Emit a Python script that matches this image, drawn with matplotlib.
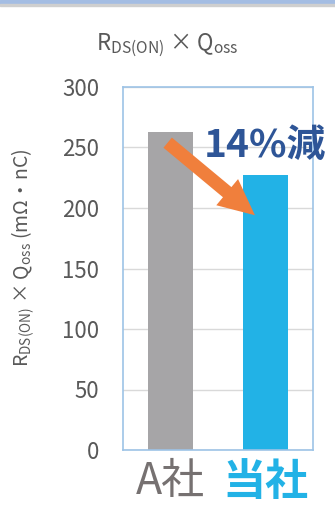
import matplotlib
matplotlib.use("Agg")
import matplotlib.pyplot as plt
from matplotlib.patches import Rectangle

plt.rcParams['font.family'] = ['Noto Sans CJK JP', 'DejaVu Sans']
plt.rcParams['mathtext.default'] = 'regular'

companies = ['A社', '当社']
values = [263, 227]
bar_colors = ['#a6a5a7', '#22b2e6']
label_colors = ['#767171', '#22b2e6']
yticks = [0, 50, 100, 150, 200, 250, 300]
reduction_text = '14%減'

fig = plt.figure(figsize=(3.35, 5.17), dpi=100)

# top band
fig.patches.append(Rectangle((0, 1 - 4 / 517), 1, 4 / 517, transform=fig.transFigure,
                             color='#a4bde3', zorder=0))
fig.patches.append(Rectangle((0, 1 - 6 / 517), 1, 2 / 517, transform=fig.transFigure,
                             color='#cfcfcf', zorder=0))

ax = fig.add_axes([123 / 335, 1 - 450 / 517, 190 / 335, 363 / 517])
x = range(len(companies))
ax.bar(x, values, width=0.48, color=bar_colors, zorder=2)

ax.set_xlim(-0.5, 1.5)
ax.set_ylim(0, 300)
ax.set_yticks(yticks)
ax.yaxis.grid(True, color='#d9d9d9', linewidth=1, zorder=0)
ax.tick_params(axis='y', length=0, pad=17, labelsize=16, labelcolor='#595959')
ax.tick_params(axis='x', length=0, pad=7)
ax.set_xticks(list(x))
ax.set_xticklabels(companies)
for lbl, c, w in zip(ax.get_xticklabels(), label_colors, ['normal', 'bold']):
    lbl.set_color(c)
    lbl.set_fontsize(31)
    lbl.set_fontweight(w)
for s in ax.spines.values():
    s.set_color('#9dc3e6')
    s.set_linewidth(1.2)

ax.set_ylabel(r'R$_{DS(ON)}$ × Q$_{oss}$ (mΩ・nC)', fontsize=14, color='#595959')
ax.yaxis.set_label_coords(-0.45, 0.53)

fig.text(0.5, 1 - 45 / 517, r'R$_{DS(ON)}$ × Q$_{oss}$', ha='center', va='center',
         fontsize=16, color='#595959')

# arrow
ax.annotate('', xy=(0.889, 194), xytext=(-0.03, 254),
            arrowprops=dict(arrowstyle='simple,head_length=2.6,head_width=2.45,tail_width=0.95',
                            mutation_scale=10, shrinkA=0, shrinkB=0,
                            color='#f07f3c', lw=0), zorder=4)

fig.text(265 / 335, 1 - 145 / 517, reduction_text, ha='center', va='center',
         fontsize=28, fontweight='bold', color='#2e5597', zorder=5)

fig.savefig('out.png', dpi=100)
